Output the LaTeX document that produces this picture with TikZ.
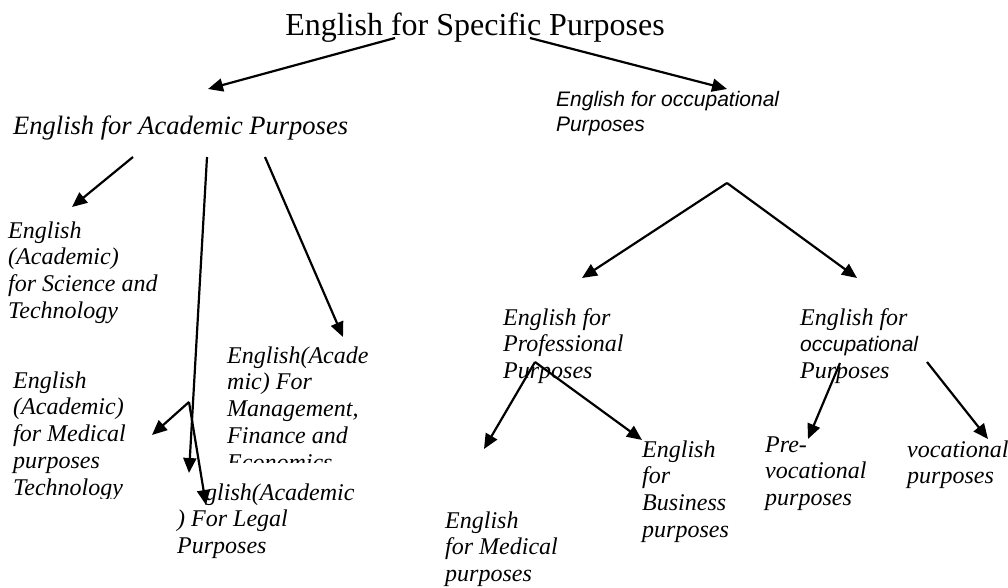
\documentclass[tikz,border=0pt]{standalone}
\usepackage{fontspec}
\setmainfont{Liberation Serif}
\newfontfamily\arialfont{Liberation Sans}
\usetikzlibrary{arrows.meta}

\begin{document}
\begin{tikzpicture}[x=1pt, y=-1pt,
    lbl/.style={anchor=base west, inner sep=0pt, align=left, font=\fontsize{24}{26.8}\selectfont\itshape},
    link/.style={line width=2.2pt, -{Triangle[length=15pt, width=13pt]}}]
  \useasboundingbox (0,0) rectangle (1008,588);

  % Title
  \node[anchor=base, inner sep=0pt, font=\fontsize{32}{36}\selectfont] (esp) at (475,36) {English for Specific Purposes};

  % Main branches (anchored at the baseline of the last line)
  \node[lbl, font=\fontsize{26.5}{30}\selectfont\itshape] (eap) at (13,135) {English for Academic Purposes};
  \node[lbl, font=\fontsize{21}{25}\selectfont\arialfont\itshape] (eop) at (556,132) {English for occupational\\Purposes};

  % Academic sub-branches
  \node[lbl] (sci) at (8,318.4) {English\\(Academic)\\for Science and\\Technology};
  \begin{scope}
    \clip (220,330) rectangle (400,462);
    \node[lbl] (mgt) at (227,470.2) {English(Acade\\mic) For\\Management,\\Finance and\\Economics};
  \end{scope}
  \begin{scope}
    \clip (0,360) rectangle (150,498);
    \node[lbl] (med) at (13,495.2) {English\\(Academic)\\for Medical\\purposes\\Technology};
  \end{scope}
  \node[lbl] (law) at (177,553.6) {\hspace*{28pt}glish(Academic\\) For Legal\\Purposes};

  % Occupational sub-branches
  \node[lbl] (prof) at (503,378.6) {English for\\Professional\\Purposes};
  \node[lbl] (occ) at (800,378.6) {English for\\{\fontsize{21}{26.8}\selectfont\arialfont occupational}\\Purposes};
  \node[lbl] (bus) at (642,537.4) {English\\for\\Business\\purposes};
  \node[lbl] (medp) at (445,581.6) {English\\for Medical\\purposes};
  \node[lbl] (prev) at (765,505.6) {Pre-\\vocational\\purposes};
  \node[lbl] (voc) at (907,483.8) {vocational\\purposes};

  % Arrow ends
  \coordinate (espL) at (395,38);
  \coordinate (espR) at (530,38);
  \coordinate (eapIn) at (208,89);
  \coordinate (eopIn) at (727,89);
  \coordinate (eapA) at (133,157);
  \coordinate (eapB) at (207,157);
  \coordinate (eapC) at (265,157);
  \coordinate (sciIn) at (72,207);
  \coordinate (medDown) at (189,473);
  \coordinate (mgtIn) at (343,337);
  \coordinate (fork) at (189,402);
  \coordinate (medIn) at (152,435);
  \coordinate (lawIn) at (206,505);
  \coordinate (eopV) at (727,183);
  \coordinate (profIn) at (582,278);
  \coordinate (occIn) at (857,278);
  \coordinate (profV) at (535,362);
  \coordinate (medpIn) at (484,449);
  \coordinate (busIn) at (642,440);
  \coordinate (occL) at (840,363);
  \coordinate (occR) at (927,362);
  \coordinate (prevIn) at (808,439);
  \coordinate (vocIn) at (988,439);

  % Arrows
  \draw[link] (espL) -- (eapIn);
  \draw[link] (espR) -- (eopIn);
  \draw[link] (eapA) -- (sciIn);
  \draw[link] (eapB) -- (medDown);
  \draw[link] (eapC) -- (mgtIn);
  \draw[link] (fork) -- (medIn);
  \draw[link] (fork) -- (lawIn);
  \draw[link] (eopV) -- (profIn);
  \draw[link] (eopV) -- (occIn);
  \draw[link] (profV) -- (medpIn);
  \draw[link] (profV) -- (busIn);
  \draw[link] (occL) -- (prevIn);
  \draw[link] (occR) -- (vocIn);
\end{tikzpicture}
\end{document}
